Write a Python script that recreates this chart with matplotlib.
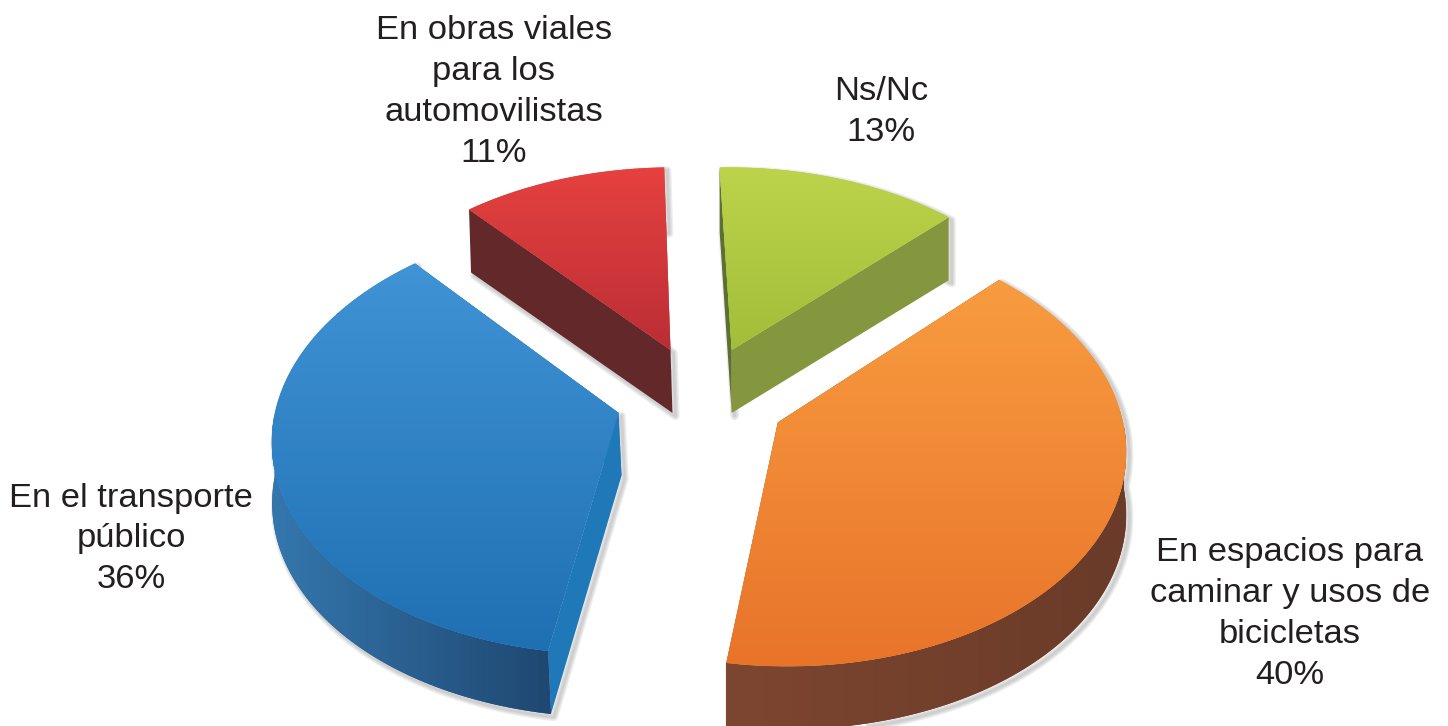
import numpy as np
from matplotlib import pyplot as plt
from matplotlib.colors import to_rgb
from matplotlib.patches import Polygon

categories = ['Ns/Nc', 'En espacios para\ncaminar y usos de\nbicicletas',
              'En el transporte\npúblico', 'En obras viales\npara los\nautomovilistas']
values = [13, 40, 36, 11]
label_x = [881, 1290, 131, 494]
label_y = [112, 614, 539, 92]

top_colors = [('#bcd44a', '#a3bd3a'), ('#f89c40', '#e8742a'), ('#4093d4', '#1e70b2'), ('#e6413f', '#bb2e35')]
rim_colors = [('#8a9c45', '#7f9040'), ('#7d4630', '#6a3b29'), ('#3477ad', '#1f4771'), ('#6a2a2b', '#5e2628')]
start_side = ['#5d7031', '#6b3a2a', '#1f78b8', '#62282a']
end_side = ['#84973f', '#6b3a2a', '#1f78b8', '#62282a']
lean = [0, 0, 3, 2]  # how far the bottom edge of each slice sits to the right

start_angle = -1.75  # clockwise from the back of the pie
radius = 1.0
explode = 0.25
depth = 63
cx, cy = 701, 398
fx, fy = 341, 212
persp = 0.108


def project(u, v):
    d = 1 + persp * v
    return cx + fx * u / d, cy - fy * v / d


def gradient(ax, xy, c1, c2, z, horizontal=False):
    # paint a two colour ramp and clip it to the polygon
    rgb1 = np.array(to_rgb(c1))
    rgb2 = np.array(to_rgb(c2))
    patch = Polygon(xy, closed=True, fc=(rgb1 + rgb2) / 2, ec='none', zorder=z)
    ax.add_patch(patch)
    t = np.linspace(0, 1, 256)[:, None]
    img = rgb1 * (1 - t) + rgb2 * t
    img = img[None, :, :] if horizontal else img[:, None, :]
    im = ax.imshow(img, extent=(xy[:, 0].min(), xy[:, 0].max(), xy[:, 1].max(), xy[:, 1].min()),
                   aspect='auto', zorder=z, interpolation='bilinear')
    im.set_clip_path(patch)


fig = plt.figure(figsize=(14.48, 7.26), dpi=100)
ax = fig.add_axes([0, 0, 1, 1])

shares = np.array(values) / sum(values) * 360
starts = start_angle + np.concatenate(([0], np.cumsum(shares)[:-1]))

# back slices first so the front ones sit on top of them
order = [3, 0, 2, 1]
for i in order:
    a0 = np.radians(starts[i])
    a1 = np.radians(starts[i] + shares[i])
    mid = (a0 + a1) / 2
    ou = explode * np.sin(mid)
    ov = explode * np.cos(mid)
    th = np.linspace(a0, a1, 120)
    rx, ry = project(ou + radius * np.sin(th), ov + radius * np.cos(th))
    ax_, ay_ = project(ou, ov)
    z = 10 + order.index(i) * 5
    shift = np.where(np.cos(th) > 0, lean[i], lean[i] * -np.cos(th))

    # soft shadow, only falls to the lower right
    outline = np.column_stack((np.r_[ax_, rx, rx[::-1] + shift[::-1], ax_ + lean[i]],
                               np.r_[ay_, ry, ry[::-1] + depth, ay_ + depth]))
    for lw in (6, 4, 2):
        ax.add_patch(Polygon(outline + [3, 3], closed=True, fc='none', ec='#555555', lw=lw,
                             alpha=0.1, joinstyle='round', zorder=z - 1))

    # cut faces
    for px, py, col, s in [(rx[0], ry[0], start_side[i], shift[0]), (rx[-1], ry[-1], end_side[i], shift[-1])]:
        side = [(ax_, ay_), (px, py), (px + s, py + depth), (ax_ + lean[i], ay_ + depth)]
        ax.add_patch(Polygon(side, closed=True, fc=col, ec='none', zorder=z))

    # outer rim, only the part that faces the viewer
    front = np.cos(th) < 0
    if front.any():
        fx_, fy_, fs = rx[front], ry[front], shift[front]
        rim = np.column_stack((np.r_[fx_, fx_[::-1] + fs[::-1]], np.r_[fy_, fy_[::-1] + depth]))
        gradient(ax, rim, rim_colors[i][0], rim_colors[i][1], z + 1, horizontal=True)

    # top face
    top = np.column_stack((np.r_[ax_, rx], np.r_[ay_, ry]))
    gradient(ax, top, top_colors[i][0], top_colors[i][1], z + 2)

for name, val, x, y in zip(categories, values, label_x, label_y):
    ax.text(x, y, f'{name}\n{val}%', ha='center', va='center', fontsize=24.8,
            family='Liberation Sans', color='#231f20', linespacing=1.41, zorder=50)

ax.set_xlim(0, 1448)
ax.set_ylim(726, 0)
ax.axis('off')

plt.savefig('out.png', dpi=100)
